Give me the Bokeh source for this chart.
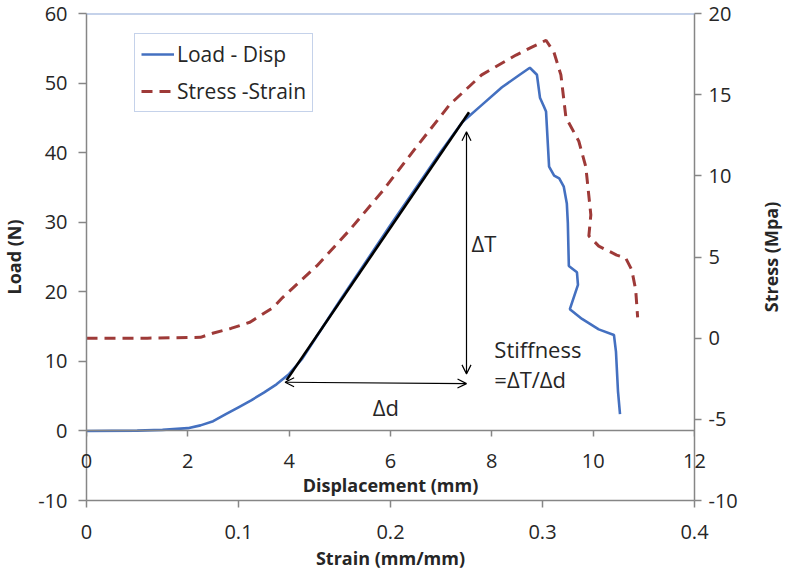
import math
from bokeh.plotting import figure
from bokeh.models import (Range1d, LinearAxis, FixedTicker, Arrow, OpenHead,
                          Legend, LegendItem, Span, Label)
from bokeh.core.properties import value
from bokeh.embed import file_html
from bokeh.resources import INLINE

# ---- data ----
disp_mm = [0.0, 1.0, 1.5, 2.0, 2.25, 2.5, 2.75, 3.0, 3.25, 3.5, 3.75, 4.0, 4.25, 4.5, 5.0,
           6.0, 7.0, 7.42, 7.81, 8.2, 8.55, 8.75, 8.89, 8.95, 9.03, 9.07, 9.13, 9.23,
           9.33, 9.42, 9.48, 9.50, 9.52, 9.68, 9.70, 9.54, 9.78, 10.11, 10.41, 10.45,
           10.49, 10.53]
load_n = [0.0, 0.05, 0.15, 0.4, 0.8, 1.4, 2.4, 3.4, 4.4, 5.5, 6.7, 8.2, 10.3, 13.1, 18.7,
          29.6, 40.2, 44.4, 46.9, 49.4, 51.2, 52.2, 51.2, 47.9, 46.6, 45.9, 38.0, 36.7,
          36.3, 35.1, 32.7, 29.9, 23.7, 22.8, 21.0, 17.5, 16.1, 14.6, 13.8, 11.4, 5.7,
          2.4]

strain = [0.0, 0.04, 0.075, 0.083, 0.095, 0.1075, 0.123, 0.129, 0.1515, 0.173, 0.195,
          0.217, 0.239, 0.260, 0.2826, 0.293, 0.3023, 0.3075, 0.3121, 0.3154, 0.3239,
          0.3285, 0.3318, 0.3305, 0.3370, 0.3488, 0.3547, 0.3587, 0.3613, 0.3626]
stress = [0.0, 0.0, 0.05, 0.3, 0.6, 0.98, 1.9, 2.5, 4.45, 6.65, 9.09, 11.77, 14.39, 16.22,
          17.44, 17.93, 18.35, 17.62, 16.22, 13.60, 12.13, 10.55, 7.6, 6.3, 5.67, 5.12,
          4.94, 4.21, 2.99, 1.28]

tangent_disp = [3.95, 7.55]
tangent_load = [7.3, 45.8]

dT_arrow_disp = [7.5, 7.5]
dT_arrow_load = [8.2, 43.0]
dd_arrow_disp = [3.92, 7.5]
dd_arrow_load = [7.0, 6.8]

note_text = ["\u0394T", "\u0394d", "Stiffness", "=\u0394T/\u0394d"]
note_disp = [7.6, 5.65, 8.05, 8.05]
note_load = [27.0, 3.4, 11.8, 7.4]

load_ticks = [-10, 0, 10, 20, 30, 40, 50, 60]
stress_ticks = [-10, -5, 0, 5, 10, 15, 20]
strain_ticks = [0, 0.1, 0.2, 0.3, 0.4]
disp_ticks = [0, 2, 4, 6, 8, 10, 12]

FONT = "Open Sans"
TXT = "#262626"
AXC = "#868686"
BLUE = "#4470C0"
RED = "#9E3A38"
FRAME_BLUE = "#8BA6D6"

p = figure(width=787, height=577, output_backend="svg", toolbar_location=None,
           x_range=Range1d(0, 0.4), y_range=Range1d(-10, 60),
           x_axis_type=None, y_axis_type=None,
           min_border_left=86, min_border_right=91, min_border_top=13,
           min_border_bottom=77)
p.extra_x_ranges = {"disp": Range1d(0, 12)}
p.extra_y_ranges = {"stress": Range1d(-10, 20)}
p.outline_line_color = None
p.background_fill_color = "white"
p.border_fill_color = "white"


def style(ax, tick_out, standoff, lab_standoff):
    ax.axis_line_color = AXC
    ax.axis_line_width = 1.5
    ax.major_tick_line_color = AXC
    ax.major_tick_line_width = 1.5
    ax.major_tick_out = tick_out
    ax.major_tick_in = 0
    ax.minor_tick_line_color = None
    ax.major_label_text_font = FONT
    ax.major_label_text_font_size = "20px"
    ax.major_label_text_color = TXT
    ax.major_label_standoff = standoff
    ax.axis_label_text_font = FONT
    ax.axis_label_text_font_size = "18px"
    ax.axis_label_text_font_style = "bold"
    ax.axis_label_text_color = TXT
    ax.axis_label_standoff = lab_standoff


def hyphen(ticks):
    return {t: str(t) for t in ticks if t < 0}


def tick_label(t, **kw):
    return Label(x=t, y=0, x_range_name="disp", y_offset=-30, text=str(t),
                 text_align="center", text_baseline="middle",
                 text_font=FONT, text_font_size="20px", text_color=TXT, **kw)


def side_title(x, text):
    return Label(x=x, y=25, x_range_name="disp", text=text, angle=math.pi / 2,
                 text_align="center", text_baseline="middle",
                 text_font=FONT, text_font_size="18px", text_font_style="bold",
                 text_color=TXT)


left = LinearAxis(ticker=FixedTicker(ticks=load_ticks),
                  major_label_overrides=hyphen(load_ticks))
style(left, 8, 11, 0)
p.add_layout(left, "left")

right = LinearAxis(y_range_name="stress", ticker=FixedTicker(ticks=stress_ticks),
                   major_label_overrides=hyphen(stress_ticks))
style(right, 7, 7, 0)
p.add_layout(right, "right")

bottom = LinearAxis(axis_label="Strain (mm/mm)", ticker=FixedTicker(ticks=strain_ticks),
                    major_label_overrides={0: "0"})
style(bottom, 7, 17, 4)
p.add_layout(bottom, "below")

dax = LinearAxis(x_range_name="disp", fixed_location=0, axis_label="Displacement (mm)",
                 ticker=FixedTicker(ticks=disp_ticks))
style(dax, 6, 13, 36)
dax.major_label_text_color = None
p.add_layout(dax, "below")

# axis titles of the two y axes (side panels: not clipped by the frame)
p.add_layout(side_title(-1.43, "Load (N)"), "left")
p.add_layout(side_title(13.5, "Stress (Mpa)"), "right")

# displacement tick labels; the two at the frame edges go to side panels
for t in disp_ticks:
    if t == disp_ticks[0]:
        p.add_layout(tick_label(t), "left")
    elif t == disp_ticks[-1]:
        p.add_layout(tick_label(t), "right")
    else:
        p.add_layout(tick_label(t))

p.add_layout(Span(location=60, dimension="width", line_color=FRAME_BLUE, line_width=2))

red = p.line(strain, stress, y_range_name="stress",
             line_color=RED, line_width=3, line_dash="11 7")
blue = p.line(disp_mm, load_n, x_range_name="disp", line_color=BLUE, line_width=2.6)
p.line(tangent_disp, tangent_load, x_range_name="disp", line_color="black", line_width=2.6)

for xs, ys in ((dT_arrow_disp, dT_arrow_load), (dd_arrow_disp, dd_arrow_load)):
    p.add_layout(Arrow(x_range_name="disp", x_start=xs[0], y_start=ys[0],
                       x_end=xs[1], y_end=ys[1],
                       start=OpenHead(size=9, line_width=1.2),
                       end=OpenHead(size=9, line_width=1.2),
                       line_width=1.2, line_color="black"))

p.text(x=note_disp, y=note_load, text=note_text, x_range_name="disp",
       text_font=value(FONT), text_font_size="22px", text_color=TXT,
       text_align="left", text_baseline="middle")

legend = Legend(items=[LegendItem(label="Load - Disp", renderers=[blue]),
                       LegendItem(label="Stress -Strain", renderers=[red])],
                location=(48, 388))
legend.label_text_font = FONT
legend.label_text_font_size = "21px"
legend.label_text_color = TXT
legend.border_line_color = FRAME_BLUE
legend.border_line_width = 1.5
legend.glyph_width = 33
legend.glyph_height = 24
legend.label_height = 24
legend.label_standoff = 3
legend.spacing = 9
legend.padding = 6
legend.margin = 0
p.add_layout(legend, "center")

open("out.html", "w").write(file_html(p, INLINE))
